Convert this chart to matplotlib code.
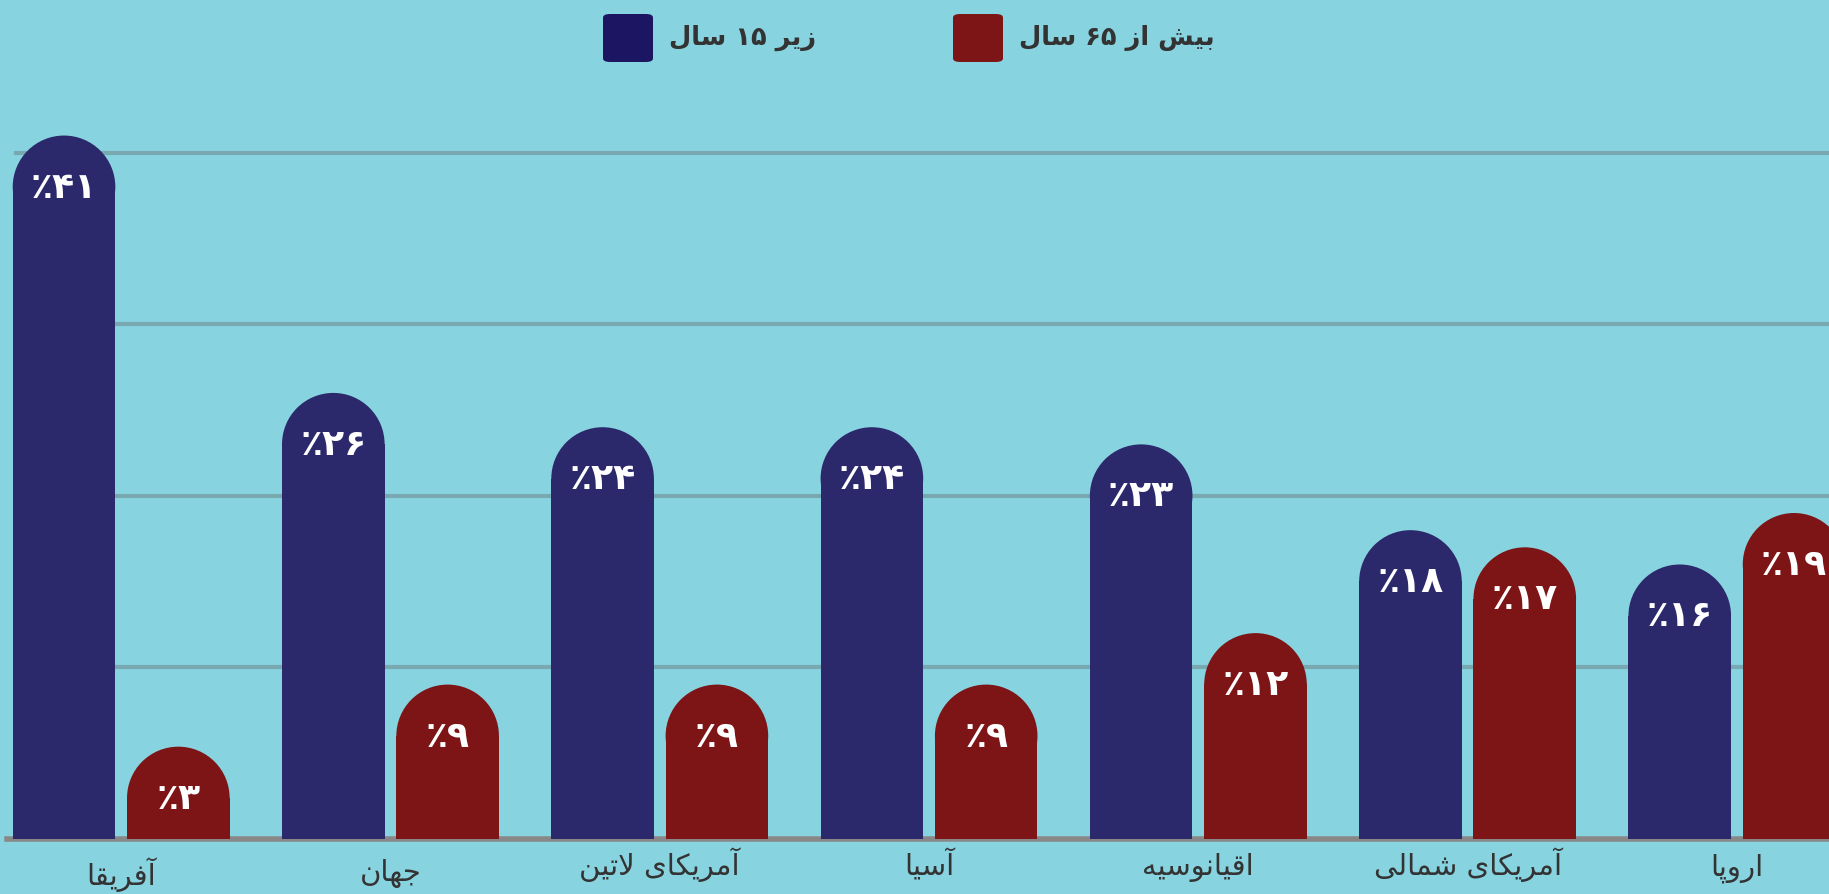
import numpy as np
import matplotlib
matplotlib.use("Agg")
import matplotlib.pyplot as plt
from matplotlib.patches import Rectangle, Ellipse, FancyBboxPatch

"-----------------------------------DATA------------------------------------------"
regions = ["آفریقا", "جهان", "آمریکای لاتین", "آسیا", "اقیانوسیه", "آمریکای شمالی", "اروپا"]
under_15 = [41, 26, 24, 24, 23, 18, 16]
over_65 = [3, 9, 9, 9, 12, 17, 19]
legend_labels = ["زیر ۱۵ سال", "بیش از ۶۵ سال"]

"-----------------------------------STYLE------------------------------------------"
bg = "#88d3e0"
blue = "#2b296b"
red = "#7d1416"
legend_blue = "#1c1562"
grid_col = "#78a9b1"
text_col = "#333333"
label_drop = [10, 6, 0, 0, 0, 0, 0]   # pixels, category labels sit a bit lower for the first two

"-----------------------------------PERSIAN SHAPING------------------------------------------"
# matplotlib has no arabic shaping, so map letters to presentation forms by hand
FORMS = {
    'ا': ('\uFE8D', '\uFE8E', None, None),
    'آ': ('\uFE81', '\uFE82', None, None),
    'ب': ('\uFE8F', '\uFE90', '\uFE91', '\uFE92'),
    'پ': ('\uFB56', '\uFB57', '\uFB58', '\uFB59'),
    'ت': ('\uFE95', '\uFE96', '\uFE97', '\uFE98'),
    'ج': ('\uFE9D', '\uFE9E', '\uFE9F', '\uFEA0'),
    'ر': ('\uFEAD', '\uFEAE', None, None),
    'ز': ('\uFEAF', '\uFEB0', None, None),
    'س': ('\uFEB1', '\uFEB2', '\uFEB3', '\uFEB4'),
    'ش': ('\uFEB5', '\uFEB6', '\uFEB7', '\uFEB8'),
    'ف': ('\uFED1', '\uFED2', '\uFED3', '\uFED4'),
    'ق': ('\uFED5', '\uFED6', '\uFED7', '\uFED8'),
    'ک': ('\uFB8E', '\uFB8F', '\uFB90', '\uFB91'),
    'ل': ('\uFEDD', '\uFEDE', '\uFEDF', '\uFEE0'),
    'م': ('\uFEE1', '\uFEE2', '\uFEE3', '\uFEE4'),
    'ن': ('\uFEE5', '\uFEE6', '\uFEE7', '\uFEE8'),
    'ه': ('\uFEE9', '\uFEEA', '\uFEEB', '\uFEEC'),
    'و': ('\uFEED', '\uFEEE', None, None),
    'ی': ('\uFBFC', '\uFBFD', '\uFBFE', '\uFBFF'),
}
LAM_ALEF = {'ا': ('\uFEFB', '\uFEFC'), 'آ': ('\uFEF5', '\uFEF6')}
DIGITS = "۰۱۲۳۴۵۶۷۸۹٪"


def joins_forward(ch):
    return ch in FORMS and FORMS[ch][2] is not None


def shape(s):
    out = []
    i = 0
    while i < len(s):
        ch = s[i]
        prev_j = i > 0 and joins_forward(s[i - 1])
        if ch == 'ل' and i + 1 < len(s) and s[i + 1] in LAM_ALEF:
            out.append(LAM_ALEF[s[i + 1]][1 if prev_j else 0])
            i += 2
            continue
        if ch in FORMS:
            next_j = joins_forward(ch) and i + 1 < len(s) and s[i + 1] in FORMS
            iso, fin, ini, med = FORMS[ch]
            if prev_j and next_j:
                out.append(med)
            elif prev_j:
                out.append(fin)
            elif next_j:
                out.append(ini)
            else:
                out.append(iso)
        else:
            out.append(ch)
        i += 1
    # visual order: reverse, but keep digit runs left to right
    vis = "".join(out)[::-1]
    res, run = "", ""
    for ch in vis:
        if ch in DIGITS:
            run += ch
        else:
            res += run[::-1] + ch
            run = ""
    return res + run[::-1]


def fa_num(v):
    return "٪" + "".join(DIGITS[int(d)] for d in str(v))


"-----------------------------------FIGURE------------------------------------------"
W, H = 1829, 894
fig = plt.figure(figsize=(W / 100, H / 100), dpi=100, facecolor=bg)
plt.rcParams['font.family'] = ['DejaVu Sans']

base_px = 839
ax = fig.add_axes([0, 1 - base_px / H, 1, base_px / H])
ax.set_facecolor(bg)
ax.set_xlim(-0.45, 6.342)
ax.set_ylim(0, 48.9)
ax.axis("off")

px_x = W / (6.342 + 0.45)
px_y = base_px / 48.9

bar_w = 0.381
gap = 0.0435
r_x = bar_w / 2
r_y = r_x * px_x / px_y
min_h = 1.8 * r_y

# gridlines
for g in [10, 20, 30, 40]:
    ax.axhline(g, xmin=0.009, xmax=1, color=grid_col, lw=3, zorder=1)
ax.axhline(0, xmin=0.004, xmax=1, color="#888888", lw=4, zorder=1, clip_on=False)


def rounded_bar(xc, h, color):
    h = max(h, min_h)
    ax.add_patch(Rectangle((xc - bar_w / 2, 0), bar_w, h - r_y, facecolor=color,
                           edgecolor="none", zorder=2, clip_on=False))
    ax.add_patch(Ellipse((xc, h - r_y), bar_w, 2 * r_y, facecolor=color,
                         edgecolor="none", zorder=2))
    return h


x = np.arange(len(regions))
for i in range(len(regions)):
    for val, off, col in [(under_15[i], -1, blue), (over_65[i], 1, red)]:
        xc = x[i] + off * (gap / 2 + bar_w / 2)
        top = rounded_bar(xc, val, col)
        ax.text(xc, top - 52 / px_y, fa_num(val), color="white", fontsize=26,
                fontweight="bold", ha="center", va="center", zorder=3)
    ax.text(x[i], -(36 + label_drop[i]) / px_y, shape(regions[i]), color=text_col,
            fontsize=21, ha="center", va="baseline", clip_on=False)

"-----------------------------------LEGEND------------------------------------------"
for (sx, col, lab) in [(603, legend_blue, legend_labels[0]), (953, red, legend_labels[1])]:
    fig.add_artist(FancyBboxPatch((sx / W, 1 - 62 / H), 50 / W, 48 / H,
                                  boxstyle="round,pad=0,rounding_size=0.004",
                                  transform=fig.transFigure, facecolor=col, edgecolor="none"))
    fig.text((sx + 66) / W, 1 - 38 / H, shape(lab), color=text_col, fontsize=18.5,
             fontweight="bold", ha="left", va="center")

plt.savefig("out.png", dpi=100, facecolor=bg)
